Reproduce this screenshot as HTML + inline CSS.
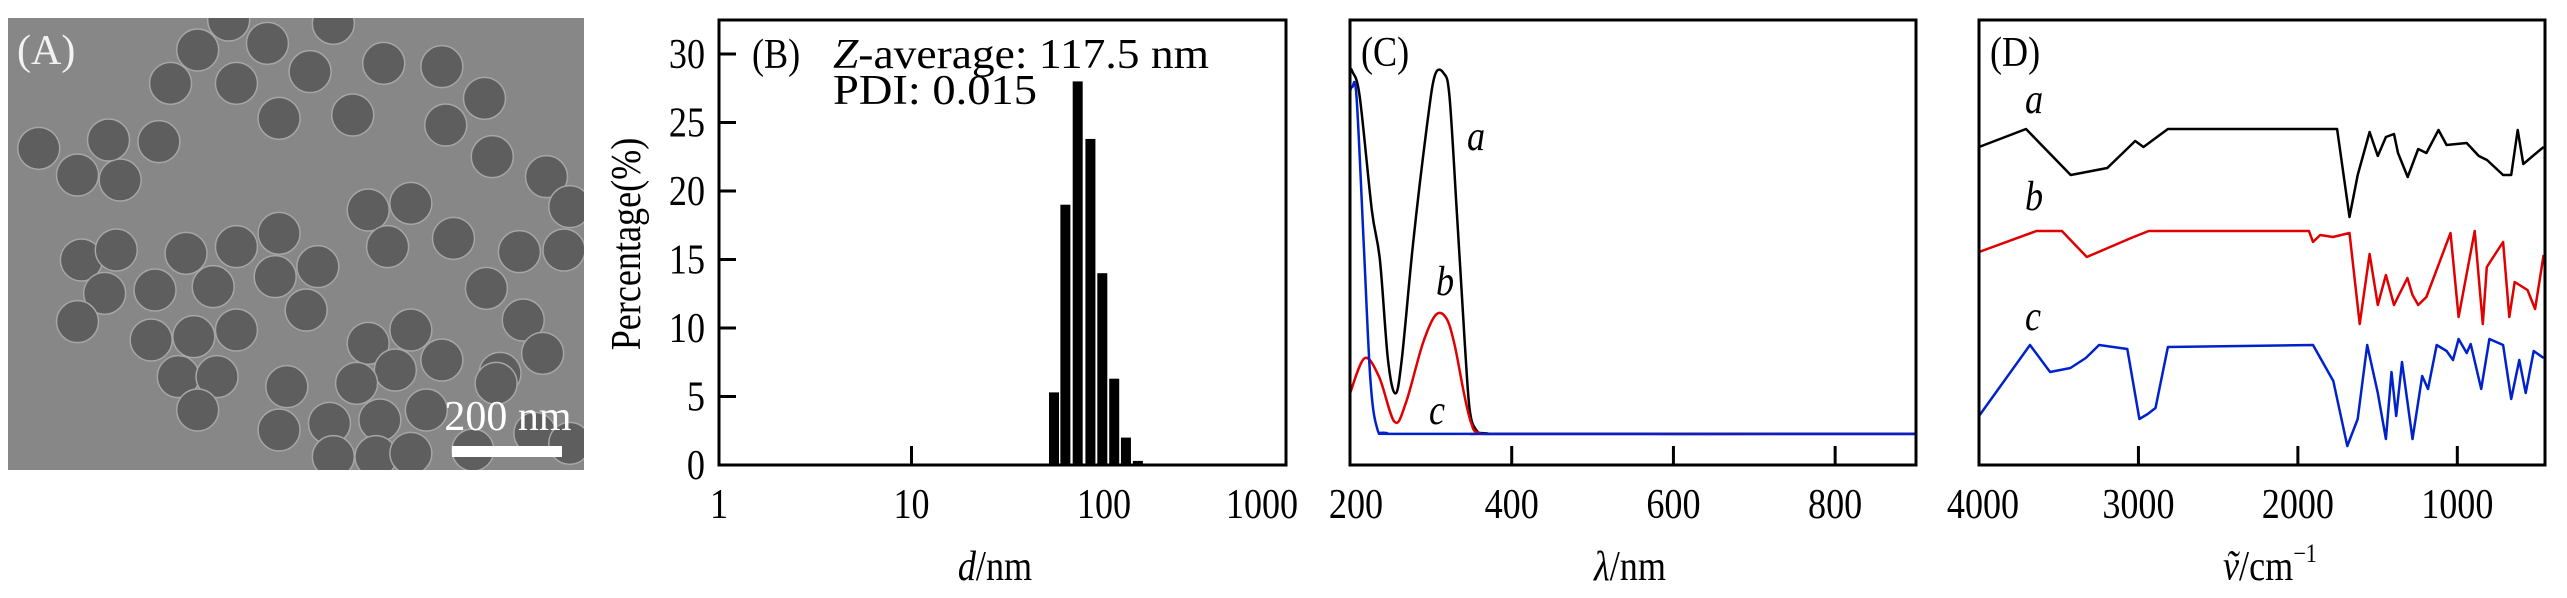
<!DOCTYPE html>
<html><head><meta charset="utf-8"><style>
html,body{margin:0;padding:0;background:#fff;}
svg{display:block;font-family:"Liberation Serif",serif;}
</style></head><body>
<svg id="fig" width="2567" height="598" viewBox="0 0 2567 598" xmlns="http://www.w3.org/2000/svg">
<defs><clipPath id="clipA"><rect x="8" y="18" width="576" height="452"/></clipPath></defs>
<g id="panelA">
<rect x="8" y="18" width="576" height="452" fill="#878787"/>
<g id="particles" clip-path="url(#clipA)"></g>
<text x="17" y="64" font-size="42" fill="#f2f2f2">(A)</text>
<text x="508" y="430" font-size="42" fill="#fff" text-anchor="middle">200 nm</text>
<rect x="452" y="446" width="110" height="11" fill="#fff"/>
</g>
<g id="panelB"></g>
<g id="panelC"></g>
<g id="panelD"></g>
</svg>
<script>
// ---- Panel A particle positions (image feature, zoom coords)
const particleCentersZoom = [[100,445],[200,525],[310,540],[280,420],[410,425],[440,250],[510,150],[610,250],[690,130],[800,215],[720,355],[910,345],[990,190],[1140,200],[1250,295],[1150,375],[1270,470],[1410,530],[1470,620],[860,70],[590,60],[950,630],[1060,610],[1000,740],[1170,715],[1340,755],[1455,750],[1255,865],[1350,960],[1400,1060],[1290,1120],[1380,1300],[1470,1330],[210,780],[300,750],[270,880],[200,965],[400,870],[480,760],[550,860],[610,740],[720,700],[710,830],[820,800],[790,930],[390,1020],[500,1010],[610,990],[460,1130],[560,1130],[510,1230],[740,1160],[720,1290],[850,1270],[950,1030],[1060,990],[1020,1110],[1140,1080],[920,1150],[980,1260],[1100,1230],[1280,1150],[860,1370],[970,1370],[1060,1360],[1220,1350]];

// ---- Panel B data
const sizeBins = [55, 63, 73, 85, 98, 113, 130, 150];
const sizePercent = [5.3, 19, 28, 23.8, 14, 6.3, 2, 0.3];
const sizeXTicks = [1, 10, 100, 1000];
const sizeYTicks = [0, 5, 10, 15, 20, 25, 30];

// ---- Panel C data
const uvXTicks = [200, 400, 600, 800];
const uvAWave = [200, 203, 212, 227, 237, 247, 256, 264, 278, 295, 305, 316, 323, 332, 342, 348, 356, 369, 420, 900];
const uvAVal  = [89, 88.4, 82.8, 57.3, 46.1, 23.6, 16.1, 23.6, 49.8, 76, 87.6, 88, 82.8, 57.3, 27.3, 12.4, 7.9, 7.1, 7, 7];
const uvBWave = [200, 218, 236, 255, 269, 290, 306, 319, 329, 341, 350, 360, 400, 900];
const uvBVal  = [16.1, 24, 19.8, 9.7, 13.9, 27.3, 33.7, 33, 27.3, 16.1, 9.4, 7.2, 7, 7];
const uvCWave = [200, 203, 208, 217, 225, 233, 245, 300, 900];
const uvCVal  = [84, 85, 82.8, 49.8, 19.8, 8.6, 7.2, 7, 7];

// ---- Panel D data (arbitrary transmittance units)
const irXTicks = [4000, 3000, 2000, 1000];
const irAWave = [4000,3705,3425,3195,3020,2968,2815,1754,1676,1625,1550,1499,1448,1397,1372,1311,1245,1194,1118,1067,941,865,814,713,662,621,586,459];
const irAVal  = [318,336,290,297,324,318,336,336,248,290,333,309,328,331,312,288,316,312,335,320,322,309,305,290,290,335,301,318];
const irBWave = [4000,3640,3480,3324,3046,2936,1930,1905,1860,1780,1676,1612,1550,1499,1448,1397,1313,1281,1245,1194,1043,992,891,840,815,713,674,640,560,512,459];
const irBVal  = [213,234,234,208,227,234,234,223,230,228,232,141,211,160,190,160,187,170,160,168,232,148,234,141,198,223,148,183,175,156,210];
const irCWave = [4000,3680,3554,3427,3330,3247,3070,2994,2942,2893,2815,1905,1778,1690,1625,1565,1499,1448,1413,1383,1347,1281,1220,1184,1129,1067,1027,992,941,916,850,799,713,662,611,571,521,459];
const irCVal  = [49,120,93,97,107,120,116,46,51,57,118,120,84,19,46,120,72,26,93,49,103,26,89,76,120,114,105,126,112,121,76,126,120,66,105,72,114,107];

const NS = "http://www.w3.org/2000/svg";
function mk(parent, tag, attrs, text) {
  const el = document.createElementNS(NS, tag);
  for (const k in attrs) el.setAttribute(k, attrs[k]);
  if (text !== undefined) el.textContent = text;
  parent.appendChild(el);
  return el;
}

// Panel A particles
const pg = document.getElementById('particles');
particleCentersZoom.forEach(c => {
  const cx = c[0] / 2.58, cy = c[1] / 3;
  const el = mk(pg, 'circle', {cx: cx, cy: cy, r: 21, fill: '#5e5e5e', stroke: '#a6a6a6', 'stroke-width': 1.5});
  
  
});

const TOP = 20, BOT = 465;
function linear(d0, d1, r0, r1) { return v => r0 + (v - d0) / (d1 - d0) * (r1 - r0); }

function frame(g, x0, x1, name) {
  const r = mk(g, 'rect', {x: x0, y: TOP, width: x1 - x0, height: BOT - TOP, fill: 'none', stroke: '#000', 'stroke-width': 3});
  
  
}
function xTicks(g, ticks, sx, labels, name) {
  ticks.forEach((t, i) => {
    const x = sx(t);
    const l = mk(g, 'line', {x1: x, x2: x, y1: BOT, y2: BOT - 19, stroke: '#000', 'stroke-width': 3});
    
    
    const tx = mk(g, 'text', {x: x, y: 518, 'font-size': 42, 'text-anchor': 'middle', 'class': 'cond'}, labels[i]);
    
    
  });
}
function txt(g, x, y, s, size, name, extra) {
  const a = Object.assign({x: x, y: y, 'font-size': size, 'class': 'cond'}, extra || {});
  const t = mk(g, 'text', a, s);
  
  
  return t;
}
function pathD(xs, ys, sx, sy, smooth) {
  const P = xs.map((v, i) => [sx(v), sy(ys[i])]);
  if (!smooth) return P.map((p, i) => (i ? 'L' : 'M') + p[0].toFixed(1) + ' ' + p[1].toFixed(1)).join(' ');
  let d = 'M' + P[0][0].toFixed(1) + ' ' + P[0][1].toFixed(1);
  for (let i = 0; i < P.length - 1; i++) {
    const p0 = P[Math.max(0, i - 1)], p1 = P[i], p2 = P[i + 1], p3 = P[Math.min(P.length - 1, i + 2)];
    const c1 = [p1[0] + (p2[0] - p0[0]) / 6, p1[1] + (p2[1] - p0[1]) / 6];
    const c2 = [p2[0] - (p3[0] - p1[0]) / 6, p2[1] - (p3[1] - p1[1]) / 6];
    d += ' C' + c1[0].toFixed(1) + ' ' + c1[1].toFixed(1) + ' ' + c2[0].toFixed(1) + ' ' + c2[1].toFixed(1) + ' ' + p2[0].toFixed(1) + ' ' + p2[1].toFixed(1);
  }
  return d;
}
function curve(g, xs, ys, sx, sy, color, name, smooth) {
  const p = mk(g, 'path', {d: pathD(xs, ys, sx, sy, smooth), fill: 'none', stroke: color, 'stroke-width': 2.5, 'stroke-linejoin': 'round'});
  
  
}

// ---- Panel B
(function () {
  const g = document.getElementById('panelB');
  const X0 = 719, X1 = 1286;
  const sx = v => X0 + Math.log10(v) * 192.5;
  const sy = linear(0, 30, BOT, 54);
  sizeBins.forEach((b, i) => {
    const xc = sx(b);
    const r = mk(g, 'rect', {x: xc - 5, y: sy(sizePercent[i]), width: 10, height: BOT - sy(sizePercent[i]), fill: '#000'});
    
    
  });
  frame(g, X0, X1, 'panel-b-axes-frame');
  sizeYTicks.forEach(t => {
    const y = sy(t);
    const l = mk(g, 'line', {x1: X0, x2: X0 + 17, y1: y, y2: y, stroke: '#000', 'stroke-width': 3});
    
    
    txt(g, X0 - 14, y + 14, String(t), 42, 'y-tick-label', {'text-anchor': 'end'});
  });
  xTicks(g, sizeXTicks.slice(1, 3), sx, ['10', '100'], 'x');
  txt(g, sx(1), 518, '1', 42, 'x-tick-label', {'text-anchor': 'middle'});
  txt(g, 1262, 518, '1000', 42, 'x-tick-label', {'text-anchor': 'middle'});
  txt(g, 640, 244, 'Percentage(%)', 42, 'y-axis-title', {'text-anchor': 'middle', transform: 'rotate(-90 640 244)'});
  const xt = txt(g, 995, 580, '', 42, 'x-axis-title', {'text-anchor': 'middle'});
  mk(xt, 'tspan', {'font-style': 'italic'}, 'd'); mk(xt, 'tspan', {}, '/nm');
  txt(g, 752, 68, '(B)', 42, 'panel-b-label');
  const z = txt(g, 833, 68, '', 42, 'z-average-annotation', {textLength: 376, lengthAdjust: 'spacingAndGlyphs', 'class': ''});
  mk(z, 'tspan', {'font-style': 'italic'}, 'Z'); mk(z, 'tspan', {}, '-average:  117.5 nm');
  txt(g, 833, 104, 'PDI:  0.015', 42, 'pdi-annotation', {textLength: 204, lengthAdjust: 'spacingAndGlyphs', 'class': ''});
})();

// ---- Panel C
(function () {
  const g = document.getElementById('panelC');
  const X0 = 1350, X1 = 1916;
  const sx = linear(200, 900, X0, X1);
  const sy = linear(0, 100, BOT, TOP);
  curve(g, uvAWave, uvAVal, sx, sy, '#000', 'uv-curve-a', true);
  curve(g, uvBWave, uvBVal, sx, sy, '#e00000', 'uv-curve-b', true);
  curve(g, uvCWave, uvCVal, sx, sy, '#0022cc', 'uv-curve-c', true);
  frame(g, X0, X1, 'panel-c-axes-frame');
  xTicks(g, uvXTicks.slice(1), sx, ['400', '600', '800'], 'x');
  txt(g, sx(200) + 6, 518, '200', 42, 'x-tick-label', {'text-anchor': 'middle'});
  const xt = txt(g, 1630, 580, '', 42, 'x-axis-title', {'text-anchor': 'middle'});
  mk(xt, 'tspan', {'font-style': 'italic'}, 'λ'); mk(xt, 'tspan', {}, '/nm');
  txt(g, 1361, 66, '(C)', 42, 'panel-c-label');
  txt(g, 1467, 150, 'a', 42, 'curve-a-label', {'font-style': 'italic'});
  txt(g, 1436, 295, 'b', 42, 'curve-b-label', {'font-style': 'italic'});
  txt(g, 1429, 424, 'c', 42, 'curve-c-label', {'font-style': 'italic'});
})();

// ---- Panel D
(function () {
  const g = document.getElementById('panelD');
  const X0 = 1979, X1 = 2545;
  const sx = linear(4000, 450, X0, X1);
  const sy = linear(0, 445, BOT, TOP);
  curve(g, irAWave, irAVal, sx, sy, '#000', 'ir-curve-a', false);
  curve(g, irBWave, irBVal, sx, sy, '#e00000', 'ir-curve-b', false);
  curve(g, irCWave, irCVal, sx, sy, '#0022cc', 'ir-curve-c', false);
  frame(g, X0, X1, 'panel-d-axes-frame');
  xTicks(g, irXTicks.slice(1), sx, ['3000', '2000', '1000'], 'x');
  txt(g, sx(4000) + 4, 518, '4000', 42, 'x-tick-label', {'text-anchor': 'middle'});
  const xt = txt(g, 2270, 580, '', 42, 'x-axis-title', {'text-anchor': 'middle'});
  mk(xt, 'tspan', {'font-style': 'italic'}, 'ṽ'); mk(xt, 'tspan', {}, '/cm');
  mk(xt, 'tspan', {'font-size': 26, dy: -18}, '−1');
  txt(g, 1990, 66, '(D)', 42, 'panel-d-label');
  txt(g, 2025, 113, 'a', 42, 'curve-a-label', {'font-style': 'italic'});
  txt(g, 2025, 210, 'b', 42, 'curve-b-label', {'font-style': 'italic'});
  txt(g, 2025, 330, 'c', 42, 'curve-c-label', {'font-style': 'italic'});
})();

// condense text horizontally to match the narrow serif in the reference
document.querySelectorAll('text.cond').forEach(t => {
  const L = t.getComputedTextLength();
  if (L > 0) {
    t.setAttribute('textLength', (L * 0.86).toFixed(1));
    t.setAttribute('lengthAdjust', 'spacingAndGlyphs');
  }
});
</script>
</body></html>
